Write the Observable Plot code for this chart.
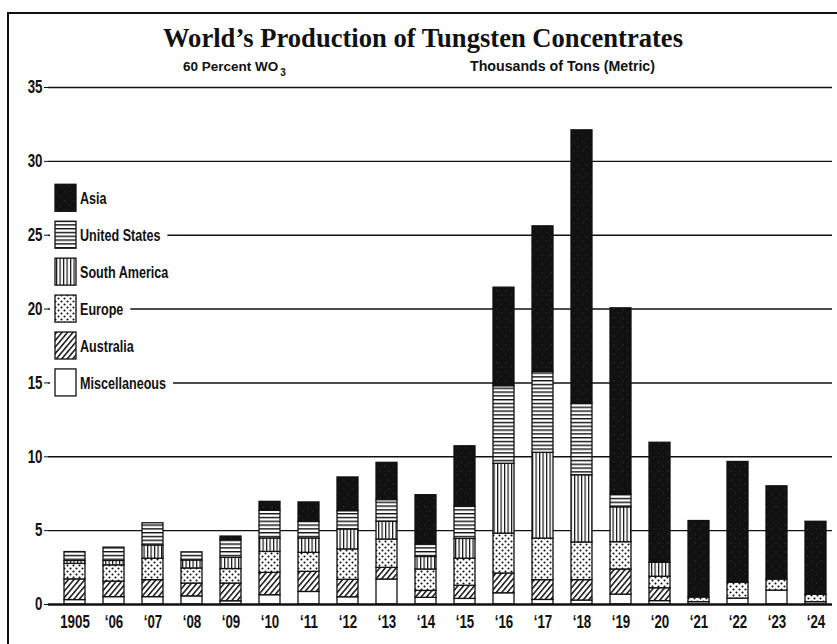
<!DOCTYPE html>
<html><head><meta charset="utf-8">
<script src="https://cdn.jsdelivr.net/npm/d3@7"></script>
<script src="https://cdn.jsdelivr.net/npm/@observablehq/plot@0.6"></script>
<style>
body{margin:0;background:#fff;}
#chart{width:837px;height:644px;position:relative;overflow:hidden;}
</style></head><body>
<svg width="0" height="0" style="position:absolute">
<defs>
  <pattern id="p-asia" patternUnits="userSpaceOnUse" width="9" height="9">
    <rect width="9" height="9" fill="#111"/>
    <circle cx="2" cy="3" r="0.45" fill="#777"/>
    <circle cx="6.5" cy="7" r="0.4" fill="#666"/>
  </pattern>
  <pattern id="p-us" patternUnits="userSpaceOnUse" width="8" height="3.8">
    <rect width="8" height="3.8" fill="#fff"/>
    <rect y="0" width="8" height="1.4" fill="#111"/>
  </pattern>
  <pattern id="p-sa" patternUnits="userSpaceOnUse" width="3.5" height="8">
    <rect width="3.5" height="8" fill="#fff"/>
    <rect x="0" width="1.2" height="8" fill="#111"/>
  </pattern>
  <pattern id="p-eu" patternUnits="userSpaceOnUse" width="6" height="6">
    <rect width="6" height="6" fill="#fff"/>
    <circle cx="1.5" cy="1.5" r="1.05" fill="#111"/>
    <circle cx="4.5" cy="4.5" r="1.05" fill="#111"/>
  </pattern>
  <pattern id="p-au" patternUnits="userSpaceOnUse" width="4.2" height="8" patternTransform="rotate(40)">
    <rect width="4.2" height="8" fill="#fff"/>
    <rect x="0" width="1.5" height="8" fill="#111"/>
  </pattern>
</defs></svg>
<div id="chart"></div>
<script>
// ---- data (thousands of metric tons, 60% WO3) ----
const years = ["1905","1906","1907","1908","1909","1910","1911","1912","1913","1914",
               "1915","1916","1917","1918","1919","1920","1921","1922","1923","1924"];
const yearLabels = ["1905","‘06","‘07","‘08","‘09","‘10","‘11","‘12","‘13","‘14",
                    "‘15","‘16","‘17","‘18","‘19","‘20","‘21","‘22","‘23","‘24"];
const series = ["Miscellaneous","Australia","Europe","South America","United States","Asia"];
const miscellaneous = [0.30,0.50,0.50,0.55,0.22,0.63,0.85,0.49,1.69,0.45,0.38,0.76,0.31,0.27,0.67,0.23,0.16,0.40,0.94,0.16];
const australia     = [1.40,1.05,1.15,0.87,1.20,1.51,1.36,1.18,0.79,0.47,0.89,1.34,1.34,1.38,1.70,0.87,0.00,0.00,0.00,0.00];
const europe        = [1.05,1.10,1.45,1.02,0.98,1.42,1.29,2.06,1.92,1.45,1.83,2.70,2.81,2.55,1.85,0.78,0.31,1.08,0.75,0.50];
const southAmerica  = [0.20,0.30,0.90,0.54,0.76,0.91,0.97,1.35,1.20,0.85,1.34,4.73,5.81,4.55,2.36,0.94,0.00,0.00,0.00,0.00];
const unitedStates  = [0.60,0.90,1.50,0.55,1.20,1.87,1.13,1.24,1.47,0.84,2.19,5.25,5.47,4.85,0.88,0.00,0.00,0.00,0.00,0.00];
const asia          = [0.00,0.00,0.00,0.00,0.24,0.61,1.31,2.28,2.52,3.34,4.08,6.67,9.86,18.50,12.59,8.13,5.18,8.17,6.31,4.94];
const yTicks = [0,5,10,15,20,25,30,35];
const fills = ["#fff","url(#p-au)","url(#p-eu)","url(#p-sa)","url(#p-us)","url(#p-asia)"];
const title = "World’s Production of Tungsten Concentrates";
const subLeft = "60 Percent WO";
const subLeftSub = "3";
const subRight = "Thousands of Tons (Metric)";

const seriesValues = [miscellaneous, australia, europe, southAmerica, unitedStates, asia];
const rows = years.flatMap((yr, i) => series.map((s, j) => ({year: yr, series: s, value: seriesValues[j][i]})));

const sansFont = "'Liberation Sans','Arial',sans-serif";
const squeeze = 0.74;

const plot = Plot.plot({
  width: 837, height: 644,
  marginTop: 87, marginBottom: 40, marginLeft: 48, marginRight: 5,
  x: {domain: years, paddingInner: 0.4666, paddingOuter: 0.19, align: 0.7,
      tickFormat: d => yearLabels[years.indexOf(d)], tickSize: 0, tickPadding: 11, label: null},
  y: {domain: [0, 35], ticks: 7, tickSize: 4, tickPadding: 2, label: null},
  color: {domain: series, range: fills},
  style: {fontFamily: sansFont, fontSize: "18px", fontWeight: "bold", color: "#111", background: "transparent"},
  marks: [
    Plot.ruleY(yTicks.filter(d => d > 0), {stroke: "#111", strokeWidth: 1.4}),
    Plot.barY(rows, {x: "year", y: "value", fill: "series", order: series, stroke: "#111", strokeWidth: 1.3}),
    Plot.ruleY([0], {stroke: "#111", strokeWidth: 2.4})
  ]
});
document.getElementById("chart").appendChild(plot);

const svg = d3.select(plot);
const yScale = plot.scale("y");

// condense axis tick labels (narrow typeface look)
svg.selectAll("g[aria-label$='axis'] text, g[aria-label$='tick label'] text").each(function() {
  const w = this.getComputedTextLength();
  this.setAttribute("textLength", (w * squeeze).toFixed(1));
  this.setAttribute("lengthAdjust", "spacingAndGlyphs");
});

// frame border
svg.append("line").attr("x1", 8).attr("x2", 837).attr("y1", 13).attr("y2", 13).attr("stroke", "#111").attr("stroke-width", 2);
svg.append("line").attr("x1", 8).attr("x2", 8).attr("y1", 12).attr("y2", 644).attr("stroke", "#111").attr("stroke-width", 2);

// title
svg.append("text").attr("x", 423).attr("y", 47).attr("text-anchor", "middle")
  .attr("textLength", 520).attr("lengthAdjust", "spacingAndGlyphs")
  .style("font-family", "'Liberation Serif','DejaVu Serif',serif").style("font-weight", "bold").style("font-size", "28px")
  .style("fill", "#111").text(title);
const subMain = svg.append("text").attr("x", 183).attr("y", 71).attr("text-anchor", "start")
  .style("font-family", sansFont).style("font-weight", "bold").style("font-size", "13.5px").style("fill", "#111")
  .text(subLeft);
const subEnd = 183 + subMain.node().getComputedTextLength();
svg.append("text").attr("x", subEnd + 2).attr("y", 76).attr("text-anchor", "start")
  .style("font-family", sansFont).style("font-weight", "bold").style("font-size", "10px").style("fill", "#111")
  .text(subLeftSub);
svg.append("text").attr("x", 470).attr("y", 71).attr("text-anchor", "start")
  .attr("textLength", 185).attr("lengthAdjust", "spacingAndGlyphs")
  .style("font-family", sansFont).style("font-weight", "bold").style("font-size", "15px").style("fill", "#111")
  .text(subRight);

// legend (top series first)
const legendSeries = series.slice().reverse();
const legendFills = fills.slice().reverse();
legendSeries.forEach((s, i) => {
  const cy = yScale.apply(27.5 - 2.5 * i);
  const g = svg.append("g");
  const bg = g.append("rect").attr("x", 50).attr("y", cy - 16).attr("height", 32).attr("fill", "#fff");
  g.append("rect").attr("x", 55).attr("y", cy - 13.5).attr("width", 21).attr("height", 27)
    .attr("fill", legendFills[i]).attr("stroke", "#111").attr("stroke-width", 1.3);
  const t = g.append("text").attr("x", 80).attr("y", cy).attr("dy", "0.36em").attr("text-anchor", "start")
    .style("font-family", sansFont).style("font-weight", "bold").style("font-size", "17px").style("fill", "#111")
    .text(s);
  const w = t.node().getComputedTextLength() * squeeze;
  t.attr("textLength", w.toFixed(1)).attr("lengthAdjust", "spacingAndGlyphs");
  bg.attr("width", 80 + w + 7 - 50);
});
</script>
</body></html>
